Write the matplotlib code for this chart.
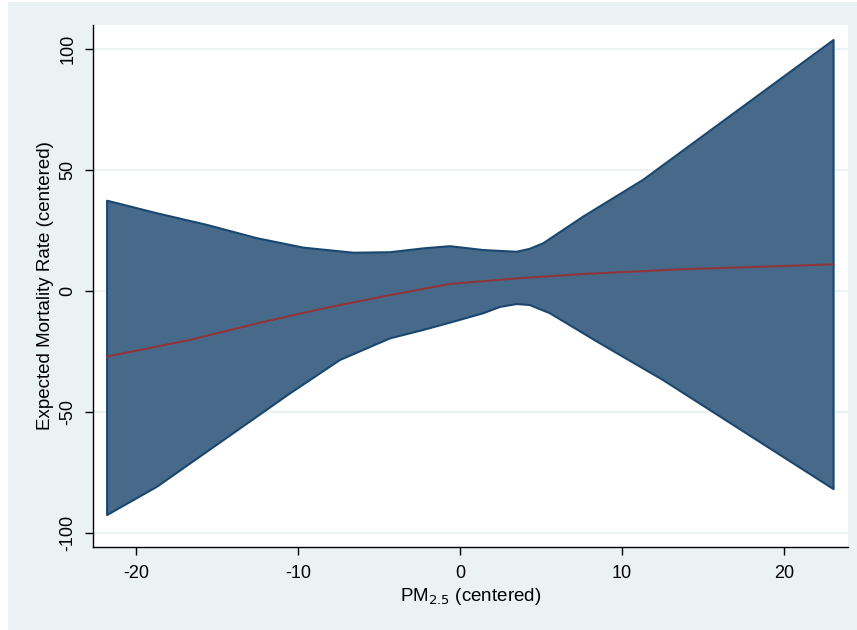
import numpy as np
import matplotlib
matplotlib.use("Agg")
import matplotlib.pyplot as plt
from matplotlib.patches import Rectangle

# valores (PM2.5 centrado)
x_upper = [-21.78, -18.70, -15.62, -12.53, -9.66, -6.58, -4.32, -2.26, -0.62,
           1.44, 3.50, 4.30, 5.14, 7.60, 11.30, 23.06]
ci_upper = [37.3, 32.1, 27.3, 21.8, 17.9, 15.8, 16.0, 17.6, 18.5,
            16.9, 16.2, 17.4, 19.7, 30.7, 45.9, 103.7]

x_lower = [-21.78, -18.70, -14.59, -10.48, -7.40, -4.32, -2.26, -0.62,
           1.44, 2.47, 3.50, 4.30, 5.55, 8.63, 12.53, 23.06]
ci_lower = [-92.6, -80.9, -61.6, -42.3, -28.5, -19.6, -16.1, -13.1,
            -9.2, -6.6, -5.4, -5.8, -9.2, -21.6, -36.8, -81.9]

x_fit = [-21.78, -16.65, -12.53, -8.43, -4.32, -0.62, 3.50, 7.60, 13.77, 19.93, 23.06]
y_fit = [-27.1, -20.2, -13.4, -7.2, -1.7, 2.9, 5.2, 7.0, 9.0, 10.3, 11.0]

xticks = [-20, -10, 0, 10, 20]
yticks = [-100, -50, 0, 50, 100]

BG = "#EAF2F3"
FILL = "#486A8A"
EDGE = "#1A476F"
RED = "#90353B"

plt.rcParams['font.family'] = ['Liberation Sans', 'DejaVu Sans']
plt.rcParams['axes.unicode_minus'] = False

fig = plt.figure(figsize=(8.57, 6.3), dpi=100, facecolor="white")
fig.patches.append(Rectangle((8 / 857, 0), 1 - 8 / 857, 1 - 2 / 630,
                             transform=fig.transFigure, facecolor=BG,
                             edgecolor="none", zorder=-10))
ax = fig.add_axes([93 / 857, 1 - 547 / 630, (848 - 93) / 857, (547 - 25) / 630])
ax.set_zorder(5)
ax.set_facecolor("white")

# banda de confianza: contorno cerrado
poly_x = x_upper + x_lower[::-1]
poly_y = ci_upper + ci_lower[::-1]
ax.fill(poly_x, poly_y, facecolor=FILL, edgecolor=EDGE, linewidth=1.5,
        joinstyle="round", zorder=2)
ax.plot(x_fit, y_fit, color=RED, linewidth=1.5, zorder=3)

ax.set_xlim(-22.65, 23.95)
ax.set_ylim(-105.8, 109.9)
ax.set_xticks(xticks)
ax.set_yticks(yticks)
ax.grid(axis="y", color=BG, linewidth=1.5, zorder=1)
ax.set_axisbelow(True)

for s in ["top", "right"]:
    ax.spines[s].set_visible(False)
for s in ["left", "bottom"]:
    ax.spines[s].set_color("black")
    ax.spines[s].set_linewidth(1.0)

ax.tick_params(axis="both", direction="out", length=6, width=1, labelsize=13)
ax.tick_params(axis="y", pad=6)
ax.tick_params(axis="x", pad=7)
plt.setp(ax.get_yticklabels(), rotation=90, va="center")

ax.set_xlabel("PM$_{2.5}$ (centered)", fontsize=13.5, labelpad=3)
ax.set_ylabel("Expected Mortality Rate (centered)", fontsize=13.5, labelpad=4)

fig.savefig("out.png", dpi=100, facecolor="white")
